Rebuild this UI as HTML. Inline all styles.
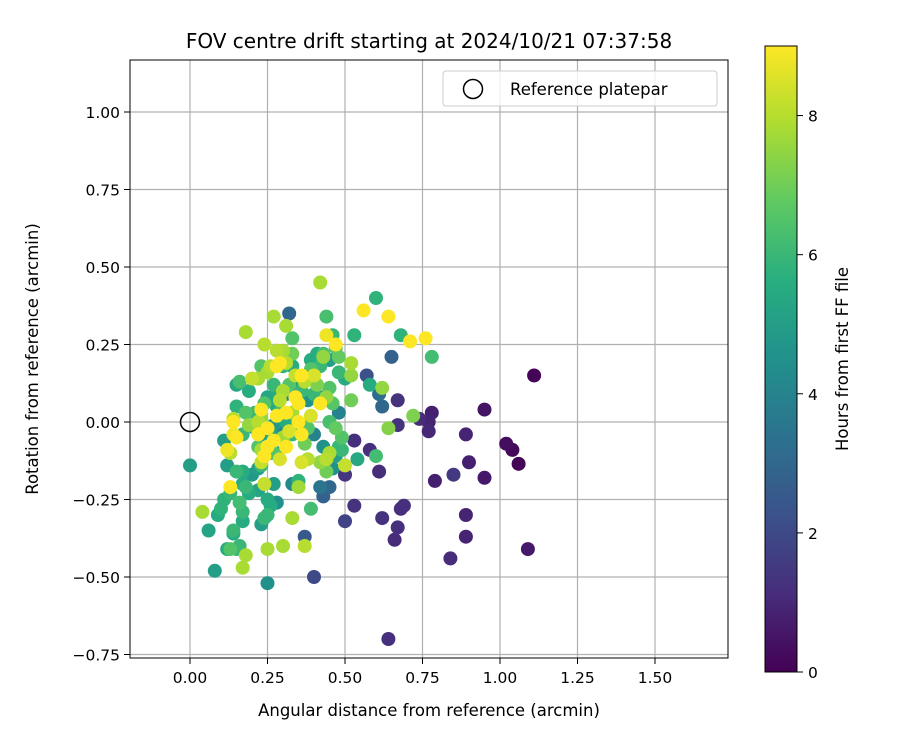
<!DOCTYPE html>
<html><head><meta charset="utf-8"><style>
body{margin:0;background:#fff}
svg text{font-family:"DejaVu Sans","Liberation Sans",sans-serif;fill:#000}
</style></head><body>
<svg id="chart" width="900" height="750" xmlns="http://www.w3.org/2000/svg">
<defs><linearGradient id="vir" x1="0" y1="1" x2="0" y2="0">
<stop offset="0" stop-color="#440154"/><stop offset="0.125" stop-color="#472d7b"/><stop offset="0.25" stop-color="#3b528b"/><stop offset="0.375" stop-color="#2c728e"/><stop offset="0.5" stop-color="#21918c"/><stop offset="0.625" stop-color="#28ae80"/><stop offset="0.75" stop-color="#5ec962"/><stop offset="0.875" stop-color="#addc30"/><stop offset="1" stop-color="#fde725"/>
</linearGradient>
<clipPath id="clip"><rect x="130" y="60" width="598" height="598"/></clipPath></defs>
<g id="grid"></g>
<g id="pts" clip-path="url(#clip)"></g>
<circle cx="190" cy="422" r="9.5" fill="none" stroke="#000" stroke-width="1.5"/>
<rect x="130" y="60" width="598" height="598" fill="none" stroke="#000" stroke-width="1"/>
<g id="ticks"></g>
<text x="429" y="48" font-size="20" text-anchor="middle">FOV centre drift starting at 2024/10/21 07:37:58</text>
<text x="429" y="716" font-size="16.5" text-anchor="middle">Angular distance from reference (arcmin)</text>
<text transform="translate(38,359) rotate(-90)" font-size="16.5" text-anchor="middle">Rotation from reference (arcmin)</text>
<g>
<rect x="443" y="71" width="274" height="35" rx="3" fill="#fff" fill-opacity="0.8" stroke="#ccc"/>
<circle cx="473" cy="89" r="9.5" fill="none" stroke="#000" stroke-width="1.5"/>
<text x="510" y="95" font-size="16.5">Reference platepar</text>
</g>
<rect x="765" y="46" width="32" height="626" fill="url(#vir)" stroke="#000" stroke-width="1"/>
<g id="cbticks"></g>
<text transform="translate(848,359) rotate(-90)" font-size="16.5" text-anchor="middle">Hours from first FF file</text>
</svg>
<script>
const xTicks=[0,0.25,0.5,0.75,1.0,1.25,1.5];
const yTicks=[-0.75,-0.5,-0.25,0,0.25,0.5,0.75,1.0];
const cTicks=[0,2,4,6,8];
const cMax=9;
const xs=[1.11,0.95,1.02,1.04,1.06,0.95,0.90,0.89,0.78,0.77,0.77,0.79,0.85,0.89,0.89,0.84,1.09,0.64,0.69,0.68,0.67,0.66,0.62,0.61,0.58,0.53,0.53,0.50,0.50,0.67,0.67,0.74,0.65,0.62,0.61,0.57,0.58,0.53,0.60,0.68,0.78,0.72,0.64,0.62,0.56,0.64,0.71,0.76,0.60,0.54,0.52,0.52,0.52,0.48,0.48,0.50,0.47,0.46,0.44,0.42,0.44,0.47,0.43,0.41,0.45,0.43,0.40,0.42,0.45,0.47,0.48,0.49,0.48,0.47,0.46,0.44,0.45,0.44,0.42,0.42,0.43,0.45,0.50,0.49,0.43,0.40,0.38,0.37,0.36,0.38,0.39,0.40,0.37,0.37,0.35,0.35,0.33,0.33,0.30,0.25,0.25,0.18,0.17,0.13,0.12,0.15,0.16,0.08,0.00,0.06,0.04,0.09,0.10,0.11,0.13,0.13,0.14,0.14,0.16,0.17,0.17,0.19,0.18,0.20,0.22,0.23,0.24,0.25,0.26,0.25,0.28,0.27,0.24,0.23,0.22,0.17,0.15,0.17,0.12,0.11,0.12,0.13,0.14,0.15,0.17,0.19,0.21,0.23,0.22,0.23,0.24,0.23,0.26,0.27,0.28,0.29,0.31,0.30,0.27,0.25,0.22,0.26,0.25,0.23,0.23,0.22,0.21,0.18,0.14,0.14,0.15,0.16,0.15,0.19,0.20,0.22,0.23,0.25,0.27,0.26,0.24,0.18,0.27,0.31,0.32,0.33,0.30,0.28,0.30,0.29,0.28,0.31,0.33,0.33,0.34,0.32,0.30,0.28,0.27,0.28,0.29,0.31,0.33,0.35,0.34,0.36,0.37,0.36,0.38,0.39,0.37,0.34,0.35,0.33,0.36,0.39,0.39,0.40,0.42,0.43,0.45,0.41,0.44,0.46,0.35,0.32,0.31,0.29,0.25,0.24,0.32,0.31,0.28,0.29,0.27];
const ys=[0.15,0.04,-0.07,-0.09,-0.135,-0.18,-0.13,-0.04,0.03,0.0,-0.03,-0.19,-0.17,-0.30,-0.37,-0.44,-0.41,-0.70,-0.27,-0.28,-0.34,-0.38,-0.31,-0.16,-0.09,-0.06,-0.27,-0.17,-0.32,0.07,-0.01,0.01,0.21,0.05,0.09,0.15,0.12,0.28,0.40,0.28,0.21,0.02,-0.02,0.11,0.36,0.34,0.26,0.27,-0.11,-0.12,0.07,0.15,0.19,0.21,0.16,0.14,0.24,0.28,0.34,0.45,0.28,0.25,0.22,0.22,0.11,0.08,0.09,0.06,0.0,-0.02,0.03,-0.05,-0.08,-0.11,-0.15,-0.16,-0.10,-0.12,-0.13,-0.21,-0.24,-0.21,-0.14,-0.09,-0.08,-0.04,-0.02,-0.07,-0.13,-0.12,-0.28,-0.50,-0.37,-0.40,-0.21,-0.19,-0.20,-0.31,-0.40,-0.41,-0.52,-0.43,-0.47,-0.41,-0.41,-0.41,-0.40,-0.48,-0.14,-0.35,-0.29,-0.30,-0.28,-0.25,-0.23,-0.21,-0.35,-0.36,-0.26,-0.32,-0.29,-0.23,-0.21,-0.17,-0.22,-0.33,-0.31,-0.30,-0.27,-0.25,-0.26,-0.20,-0.20,-0.14,-0.15,-0.16,-0.16,-0.20,-0.14,-0.06,-0.09,-0.10,-0.04,-0.05,-0.04,-0.01,-0.02,-0.04,-0.08,-0.09,-0.11,-0.13,-0.10,-0.10,-0.10,-0.12,-0.08,-0.05,-0.06,-0.08,-0.04,-0.04,-0.02,0.01,0.04,0.00,0.03,0.03,0.01,0.00,0.05,0.13,0.12,0.10,0.14,0.14,0.18,0.16,0.12,0.18,0.25,0.29,0.34,0.31,0.35,0.27,0.23,0.23,0.18,0.19,0.18,0.19,0.22,0.18,0.15,0.12,0.10,0.10,0.07,0.05,0.03,0.03,0.03,0.06,0.08,0.15,0.13,0.10,0.07,0.02,-0.01,-0.02,0.00,-0.04,-0.04,0.17,0.20,0.15,0.18,0.21,0.20,0.12,0.08,0.06,0.13,0.10,0.09,0.07,0.08,0.06,-0.03,0.00,0.02,-0.02,-0.01];
const hrs=[0.1,0.5,0.3,0.2,0.1,0.6,0.8,0.9,0.8,0.9,1.0,0.8,1.5,0.9,0.9,1.1,0.6,1.2,1.2,1.2,1.2,1.1,1.3,1.1,1.2,1.2,1.3,1.4,1.8,1.3,1.3,1.1,2.8,3.0,3.2,2.2,5.5,5.8,5.8,5.8,6.2,7.2,7.3,7.5,9,9,9,9,6.2,5.4,7,7.5,7.8,6.8,6,5.5,6.5,6.0,6.3,7.8,8.8,9,6.3,5.5,6.5,5.0,6.0,9,6.3,6.8,4.0,6.5,6.0,5.0,4.5,7.0,7.8,8.0,7.5,3.5,2.8,3.0,8.2,6.0,4.5,4.0,6.5,7.0,8.5,8.0,6.2,2.0,2.5,8.0,7.7,5.8,4.2,7.8,7.8,7.8,4.5,7.8,7.8,6.5,5.5,6,6,5,5,5.2,7.8,5.5,5.8,5.8,6,9,6,5.5,6.2,5.5,6,5.5,6,4.8,5.2,5,6,6,5.5,5.5,4.5,5,8.2,6,5,5.5,6,5.5,5,5,8.8,8,8.8,9,6,7.5,4.5,5,6.5,7.8,9,8.2,5.5,6.5,5,8.5,9,7.7,9,9,9,5.2,9,7.5,9,8,6,6.5,8,9,5.8,6.3,5.3,5.6,8.2,7.8,6.5,7.8,6.0,8,8,7.8,7.8,7.8,3,6.5,7.8,8,5.8,9,9,8,7,5.5,8.2,6.5,7.8,5.5,5.2,5.5,6.2,9,7.8,9,9,9,8,6,4.5,8.5,5,4,9,6,9,6.5,5.5,8.5,6,7.5,5,7.2,7.5,6.6,5,4.5,3.8,8,5.3,6.5,8.5,5.5,9,4,4.8];
const X=v=>190+v*310, Y=v=>422-v*310, C=v=>672-v*(626/cMax);
const stops=[[68,1,84],[71,45,123],[59,82,139],[44,114,142],[33,145,140],[40,174,128],[94,201,98],[173,220,48],[253,231,37]];
function vir(t){t=Math.max(0,Math.min(1,t))*8;const i=Math.min(7,Math.floor(t)),f=t-i;const a=stops[i],b=stops[i+1];return `rgb(${a.map((c,k)=>Math.round(c+(b[k]-c)*f)).join(',')})`;}
const NS="http://www.w3.org/2000/svg";
const grid=document.getElementById('grid'),tk=document.getElementById('ticks'),pts=document.getElementById('pts'),cb=document.getElementById('cbticks');
function mk(tag,at,parent){const e=document.createElementNS(NS,tag);for(const k in at)e.setAttribute(k,at[k]);parent.appendChild(e);return e;}
xTicks.forEach(v=>{
 const g=mk('line',{x1:X(v),x2:X(v),y1:60,y2:658,stroke:'#b0b0b0','stroke-width':1.2},grid);
 
 
 const t=mk('line',{x1:X(v),x2:X(v),y1:658,y2:664,stroke:'#000'},tk);
 
 
 const l=mk('text',{x:X(v),y:683,'font-size':15.5,'text-anchor':'middle'},tk);l.textContent=v.toFixed(2);
 
 
});
yTicks.forEach(v=>{
 const g=mk('line',{x1:130,x2:728,y1:Y(v),y2:Y(v),stroke:'#b0b0b0','stroke-width':1.2},grid);
 
 
 const t=mk('line',{x1:124,x2:130,y1:Y(v),y2:Y(v),stroke:'#000'},tk);
 
 
 const l=mk('text',{x:120,y:Y(v)+6,'font-size':15.5,'text-anchor':'end'},tk);l.textContent=v.toFixed(2).replace('-','−');
 
 
});
const idx=hrs.map((h,i)=>i).sort((a,b)=>hrs[a]-hrs[b]);
idx.forEach(i=>{
 const c=mk('circle',{cx:X(xs[i]),cy:Y(ys[i]),r:7,fill:vir(hrs[i]/cMax)},pts);
 
 
});
cTicks.forEach(v=>{
 const t=mk('line',{x1:797,x2:803,y1:C(v),y2:C(v),stroke:'#000'},cb);
 
 
 const l=mk('text',{x:808,y:C(v)+6,'font-size':15.5},cb);l.textContent=v;
 
 
});
</script>
</body></html>
